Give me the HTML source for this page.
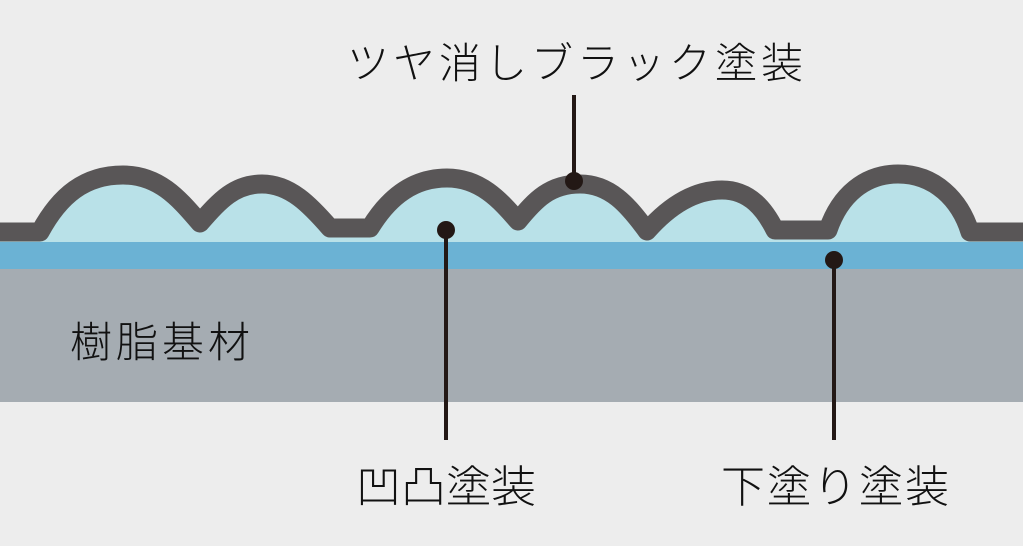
<!DOCTYPE html>
<html><head><meta charset="utf-8"><style>
html,body{margin:0;padding:0;background:#ededed}
svg{display:block}
text{font-family:"Liberation Sans","Noto Sans CJK JP",sans-serif;font-weight:300;fill:#111}
</style></head><body>
<svg width="1023" height="546" viewBox="0 0 1023 546" xmlns="http://www.w3.org/2000/svg">
<rect width="1023" height="546" fill="#ededed"/>
<rect x="0" y="268" width="1023" height="134" fill="#a5acb2"/>
<rect x="0" y="241" width="1023" height="28" fill="#6bb2d4"/>
<path d="M0,242 L0,232 L40,232 C60,195 85,175 123,175 C160,175 180,200 200,223 C220,200 235,184 262,184 C290,184 310,205 330,228 L370,228 C390,195 415,178 447,178 C480,178 500,200 518,221 C535,200 550,184 580,184 C610,184 628,205 647,231 C670,205 695,190 722,190 C750,190 765,210 775,230 L828,230 C840,195 865,174 898,174 C935,174 960,200 970,232 L1023,232 L1023,242 Z" fill="#b9e1e8"/>
<path d="M0,232 L40,232 C60,195 85,175 123,175 C160,175 180,200 200,223 C220,200 235,184 262,184 C290,184 310,205 330,228 L370,228 C390,195 415,178 447,178 C480,178 500,200 518,221 C535,200 550,184 580,184 C610,184 628,205 647,231 C670,205 695,190 722,190 C750,190 765,210 775,230 L828,230 C840,195 865,174 898,174 C935,174 960,200 970,232 L1023,232" fill="none" stroke="#595657" stroke-width="19" stroke-linejoin="round"/>
<g stroke="#231815" stroke-width="4">
<line x1="574" y1="95" x2="574" y2="181"/>
<line x1="446" y1="230" x2="446" y2="440"/>
<line x1="834" y1="260" x2="834" y2="440"/>
</g>
<g fill="#231815">
<circle cx="574" cy="181" r="9"/>
<circle cx="446" cy="230" r="9"/>
<circle cx="834" cy="260" r="9"/>
</g>
<text x="347" y="78" font-size="42" textLength="456" lengthAdjust="spacing">ツヤ消しブラック塗装</text>
<text x="70" y="357" font-size="42" textLength="180" lengthAdjust="spacing">樹脂基材</text>
<text x="356" y="502" font-size="44" textLength="180" lengthAdjust="spacingAndGlyphs">凹凸塗装</text>
<text x="721" y="502" font-size="44" textLength="228" lengthAdjust="spacing">下塗り塗装</text>
</svg>
</body></html>
